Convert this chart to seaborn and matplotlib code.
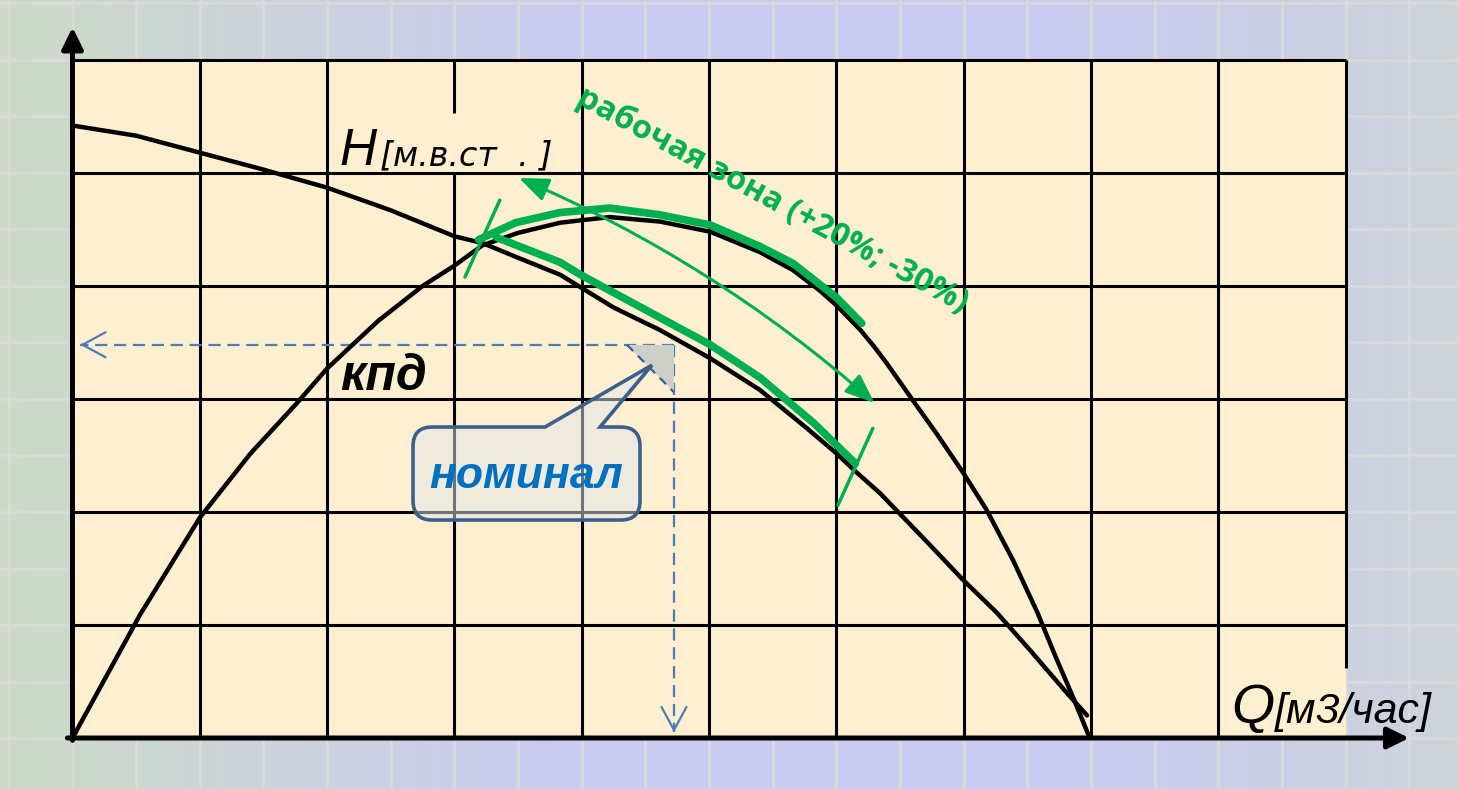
import numpy as np
import matplotlib
matplotlib.use('Agg')
import matplotlib.pyplot as plt
import seaborn as sns
from matplotlib.patches import Rectangle, Polygon, PathPatch
from matplotlib.path import Path
from matplotlib.colors import LinearSegmentedColormap

# Данные (в клетках сетки)
# напорная характеристика H(Q)
q_h = [0, 0.5, 1.0, 1.5, 2.0, 2.5, 3.0, 3.22, 3.5, 3.83, 4.25, 4.615, 5.01,
       5.40, 5.77, 6.0, 6.15, 6.34, 6.7, 6.995, 7.26, 7.52, 7.81, 7.97]
h = [5.42, 5.33, 5.18, 5.03, 4.87, 4.67, 4.44, 4.38, 4.25, 4.10, 3.81, 3.61,
     3.36, 3.08, 2.74, 2.52, 2.36, 2.17, 1.75, 1.40, 1.11, 0.78, 0.40, 0.20]

# КПД(Q)
q_eff = [0, 0.53, 1.0, 1.4, 1.76, 2.0, 2.4, 2.75, 3.0, 3.22, 3.5, 3.83, 4.22,
         4.615, 5.01, 5.40, 5.66, 5.87, 6.0, 6.19, 6.30, 6.40, 6.50, 6.60,
         6.79, 6.995, 7.18, 7.39, 7.58, 7.73, 7.86, 7.98]
eff = [0, 1.09, 1.95, 2.52, 2.96, 3.27, 3.69, 4.0, 4.18, 4.36, 4.47, 4.56,
       4.61, 4.57, 4.48, 4.30, 4.14, 3.96, 3.83, 3.61, 3.46, 3.31, 3.15, 2.99,
       2.69, 2.35, 2.02, 1.57, 1.11, 0.70, 0.36, 0.03]

# рабочая зона (зелёные дуги) и номинальная точка
zone_top_q = [3.19, 3.48, 3.83, 4.22, 4.615, 5.01, 5.40, 5.66, 6.0, 6.20]
zone_top = [4.41, 4.56, 4.65, 4.69, 4.63, 4.54, 4.35, 4.20, 3.90, 3.67]
zone_bot_q = [3.33, 3.83, 3.99, 4.615, 5.01, 5.40, 5.82, 6.15]
zone_bot = [4.43, 4.21, 4.10, 3.72, 3.48, 3.19, 2.79, 2.43]
zone_q = [3.22, 6.15]
q_nom = 4.725
h_nom = 3.48

grid_q = [1, 2, 4, 5, 6, 7, 8, 9]
grid_h = [1, 2, 3, 4, 5, 6]

# Цвета
beige = '#fdefd0'
green = '#00b050'
blue_dash = '#4a7ebb'
box_edge = '#3d5f8c'
text_blue = '#0070c0'

sns.set_style('white')
plt.rcParams['font.family'] = ['Liberation Sans', 'DejaVu Sans']
plt.rcParams['text.color'] = 'black'

fig = plt.figure(figsize=(14.58, 7.89), dpi=100)
ax = fig.add_axes([0, 0, 1, 1])

# привязка клеток к пикселям картинки
x0_px, dx_px = 72.5, 127.3
y0_px, dy_px = 738, 113
W, H = 1458, 789
xlim = (-x0_px / dx_px, (W - x0_px) / dx_px)
ylim = ((y0_px - H) / dy_px, y0_px / dy_px)
ax.set_xlim(xlim)
ax.set_ylim(ylim)
ax.axis('off')

# Фон: градиент и светлая сетка
bg_cmap = LinearSegmentedColormap.from_list(
    'bg', [(0, '#cddac6'), (0.2, '#cbd2dc'), (0.4, '#c9cbf2'),
           (0.7, '#c9cbf4'), (0.88, '#cbcfe4'), (1, '#cdd5da')])
ax.imshow(np.linspace(0, 1, 256)[None, :], cmap=bg_cmap,
          extent=[*xlim, *ylim], aspect='auto', zorder=0)
ax.vlines(np.arange(-1, 11.5, 0.5), *ylim, color='#dadada', lw=2.0, zorder=1)
ax.hlines(np.arange(-0.5, 7, 0.5), *xlim, color='#dadada', lw=2.0, zorder=1)

# поле графика
ax.add_patch(Rectangle((0, 0), 10, 6, fc=beige, ec='none', zorder=2))
ax.vlines(grid_q, 0, 6, color='black', lw=2.2, zorder=3)
ax.vlines(3, 0, 5, color='black', lw=2.2, zorder=3)
ax.vlines(3, 5.53, 6, color='black', lw=2.2, zorder=3)
ax.vlines(10, 0.62, 6, color='black', lw=2.2, zorder=3)
ax.hlines(grid_h, 0, 10, color='black', lw=2.2, zorder=3)

# оси со стрелками
axis_arrow = dict(arrowstyle='-|>,head_length=0.65,head_width=0.32', lw=3.6,
                  color='black', mutation_scale=20, shrinkA=0, shrinkB=0)
ax.annotate('', xy=(0, 6.29), xytext=(0, -0.02), arrowprops=axis_arrow, zorder=8)
ax.annotate('', xy=(10.5, 0), xytext=(-0.04, 0), arrowprops=axis_arrow, zorder=8)

# кривые
sns.lineplot(x=q_h, y=h, sort=False, estimator=None, color='black', lw=3.2,
             ax=ax, zorder=5)
sns.lineplot(x=q_eff, y=eff, sort=False, estimator=None, color='black', lw=3.2,
             ax=ax, zorder=5)

# рабочая зона
sns.lineplot(x=zone_top_q, y=zone_top, sort=False, estimator=None, color=green,
             lw=5.5, ax=ax, zorder=6)
sns.lineplot(x=zone_bot_q, y=zone_bot, sort=False, estimator=None, color=green,
             lw=5.5, ax=ax, zorder=6)
for q in zone_q:
    hq = h[q_h.index(q)] + 0.04
    ax.plot([q - 0.137, q + 0.137], [hq - 0.34, hq + 0.34], color=green,
            lw=2.5, zorder=6)

ax.annotate('', xy=(6.30, 2.965), xytext=(3.507, 4.956),
            arrowprops=dict(arrowstyle='<|-|>,head_length=0.9,head_width=0.36',
                            connectionstyle='arc3,rad=-0.08', color=green,
                            lw=2.2, mutation_scale=20, shrinkA=0, shrinkB=0),
            zorder=6)
ax.text(5.496, 4.76, 'рабочая зона (+20%; -30%)', rotation=-28.5,
        rotation_mode='anchor', ha='center', va='center', color=green,
        fontsize=23.5, weight='bold', family=['Open Sans', 'DejaVu Sans'],
        zorder=9)

# номинал: пунктир и треугольник
dash = (0, (5.5, 3))
ax.plot([q_nom, 0.06], [h_nom, h_nom], color=blue_dash, lw=1.6, ls=dash, zorder=4)
ax.plot([q_nom, q_nom], [h_nom, 0.05], color=blue_dash, lw=1.6, ls=dash, zorder=4)
open_head = dict(arrowstyle='->,head_length=0.83,head_width=0.45', lw=1.6,
                 color=blue_dash, mutation_scale=20, shrinkA=0, shrinkB=0)
ax.annotate('', xy=(0.06, h_nom), xytext=(0.08, h_nom), arrowprops=open_head, zorder=4)
ax.annotate('', xy=(q_nom, 0.05), xytext=(q_nom, 0.07), arrowprops=open_head, zorder=4)
ax.add_patch(Polygon([(q_nom - 0.37, h_nom), (q_nom, h_nom), (q_nom, h_nom - 0.42)],
                     closed=True, fc='#cfcfc9', ec='none', zorder=4))
ax.plot([q_nom - 0.37, q_nom], [h_nom, h_nom - 0.42], color='#385d8a', lw=1.6,
        ls=(0, (4, 3)), zorder=4)

# выноска "номинал"
L, R, B, T = 2.675, 4.458, 1.929, 2.752
rx, ry = 0.15, 0.17
p1, p2 = 3.712, 4.144
tip = (4.552, 3.30)
verts = [(L + rx, B), (R - rx, B), (R, B), (R, B + ry), (R, T - ry), (R, T),
         (R - rx, T), (p2, T), tip, (p1, T), (L + rx, T), (L, T), (L, T - ry),
         (L, B + ry), (L, B), (L + rx, B), (L + rx, B)]
codes = [Path.MOVETO, Path.LINETO, Path.CURVE3, Path.CURVE3, Path.LINETO,
         Path.CURVE3, Path.CURVE3, Path.LINETO, Path.LINETO, Path.LINETO,
         Path.LINETO, Path.CURVE3, Path.CURVE3, Path.LINETO, Path.CURVE3,
         Path.CURVE3, Path.CLOSEPOLY]
ax.add_patch(PathPatch(Path(verts, codes), fc=(0.88, 0.9, 0.92, 0.5),
                       ec=box_edge, lw=2.6, zorder=4))
ax.text((L + R) / 2, 2.31, 'номинал', fontsize=32, style='italic', weight='bold',
        color=text_blue, ha='center', va='center', zorder=9)

# подписи
ax.text(2.10, 5.07, 'H', fontsize=37, style='italic', va='baseline', zorder=9)
ax.text(2.415, 5.07, '[м.в.ст  . ]', fontsize=24, style='italic', va='baseline',
        family=['DejaVu Sans'], zorder=9)
ax.text(2.10, 3.08, 'кпд', fontsize=36, style='italic', weight='bold',
        va='baseline', zorder=9)
ax.text(9.10, 0.13, 'Q', fontsize=40, style='italic', va='baseline', zorder=9)
ax.text(9.446, 0.13, '[м3/час]', fontsize=31, style='italic', va='baseline',
        zorder=9)

fig.savefig('out.png', dpi=100)
